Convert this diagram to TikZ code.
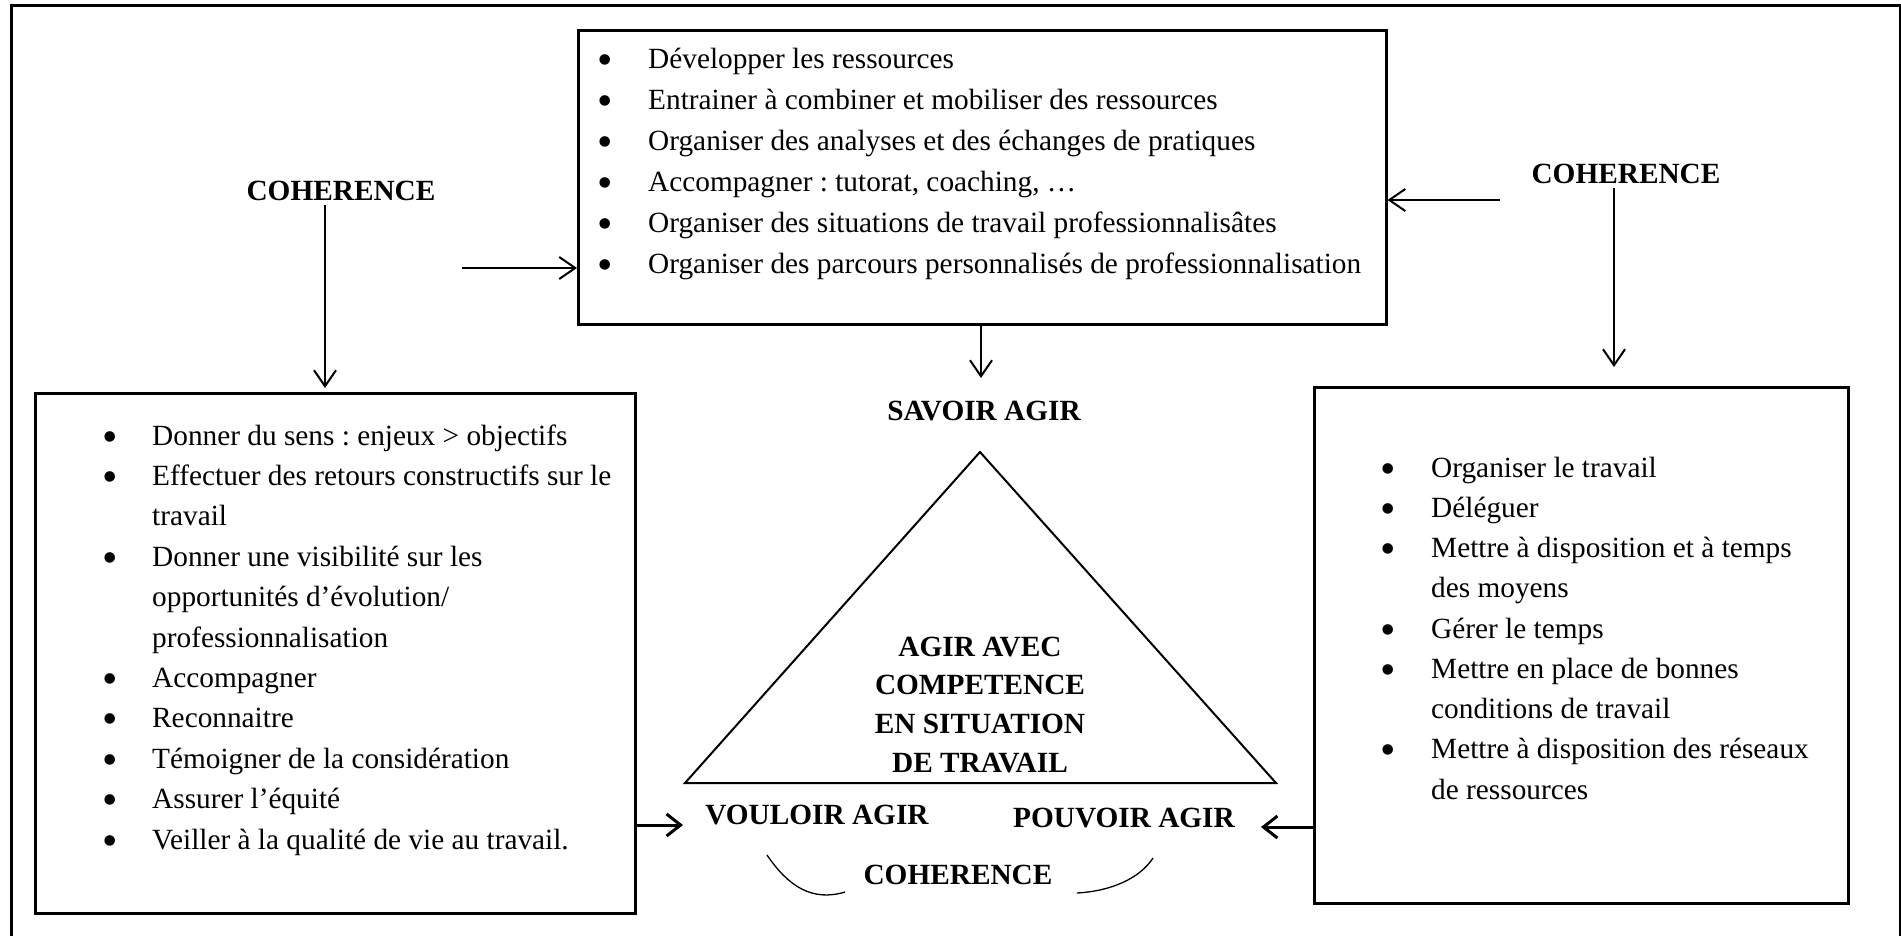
\documentclass[tikz,border=0pt]{standalone}
\usepackage{fontspec}
\setmainfont{Liberation Serif}
\usetikzlibrary{arrows.meta}
\frenchspacing

% bullet list item: #1 = distance from bullet to text, #2 = item text
\newcommand{\gros}{\raisebox{-6pt}{\fontsize{44pt}{44pt}\selectfont\textbullet}}
\newcommand{\puce}[2]{\hangindent=#1\hangafter=1\noindent\makebox[#1][l]{\gros}#2\par}
% list block set at a given line pitch
\newcommand{\liste}[3]{\parbox[t]{#1}{\fontsize{29.3pt}{#2}\selectfont\frenchspacing\parskip=0pt\parindent=0pt #3}}

\begin{document}
\begin{tikzpicture}[x=1pt,y=-1pt,
  frame/.style={line width=3pt},
  listbox/.style={draw, line width=2.5pt, inner sep=0pt, anchor=north west},
  listtext/.style={inner sep=0pt, anchor=base west},
  lbl/.style={font=\fontsize{29.3pt}{34pt}\selectfont\bfseries, inner sep=0pt, anchor=base},
  arr/.style={line width=2pt, -{Straight Barb[length=16pt,width=22pt]}},
  arrb/.style={line width=3pt, -{Straight Barb[length=14pt,width=22pt]}},
  thin/.style={line width=1.3pt},
]
\useasboundingbox (0,0) rectangle (1901,935);
\clip (0,0) rectangle (1901,935);

% outer frame (its lower edge lies below the page)
\draw[frame] (11,980) -- (11,5) -- (1900,5) -- (1900,980);

% the three list boxes
\node[listbox, minimum width=808pt, minimum height=294pt] (tbox) at (577,29) {};
\node[listbox, minimum width=600pt, minimum height=520pt] (lbox) at (34,392) {};
\node[listbox, minimum width=534pt, minimum height=516pt] (rbox) at (1313,386) {};

\node[listtext] (tlist) at (597.5,68) {\liste{780pt}{41pt}{%
  \puce{50.5pt}{Développer les ressources}
  \puce{50.5pt}{Entrainer à combiner et mobiliser des ressources}
  \puce{50.5pt}{Organiser des analyses et des échanges de pratiques}
  \puce{50.5pt}{Accompagner : tutorat, coaching, …}
  \puce{50.5pt}{Organiser des situations de travail professionnalisâtes}
  \puce{50.5pt}{Organiser des parcours personnalisés de professionnalisation}}};

\node[listtext] (llist) at (102.5,445) {\liste{520pt}{40.4pt}{%
  \puce{49.5pt}{Donner du sens : enjeux > objectifs}
  \puce{49.5pt}{Effectuer des retours constructifs sur le\\travail}
  \puce{49.5pt}{Donner une visibilité sur les\\opportunités d’évolution/\\professionnalisation}
  \puce{49.5pt}{Accompagner}
  \puce{49.5pt}{Reconnaitre}
  \puce{49.5pt}{Témoigner de la considération}
  \puce{49.5pt}{Assurer l’équité}
  \puce{49.5pt}{Veiller à la qualité de vie au travail.}}};

\node[listtext] (rlist) at (1380.5,477) {\liste{460pt}{40.25pt}{%
  \puce{50.5pt}{Organiser le travail}
  \puce{50.5pt}{Déléguer}
  \puce{50.5pt}{Mettre à disposition et à temps\\des moyens}
  \puce{50.5pt}{Gérer le temps}
  \puce{50.5pt}{Mettre en place de bonnes\\conditions de travail}
  \puce{50.5pt}{Mettre à disposition des réseaux\\de ressources}}};

% headings
\node[lbl] (cohL) at (341,200) {COHERENCE};
\node[lbl] (cohR) at (1626,183) {COHERENCE};
\node[lbl] (savoir) at (984,420) {SAVOIR AGIR};
\node[lbl] (vouloir) at (817,824) {VOULOIR AGIR};
\node[lbl] (pouvoir) at (1124,827) {POUVOIR AGIR};
\node[lbl] (cohB) at (958,884) {COHERENCE};

% triangle
\coordinate (apex) at (980,452);
\coordinate (bl) at (685,783);
\coordinate (br) at (1276,783);
\draw[line width=2pt, line join=miter] (apex) -- (br) -- (bl) -- cycle;
\node[inner sep=0pt, anchor=base] (centre) at (980,656)
  {\parbox[t]{330pt}{\centering\fontsize{29.3pt}{38.7pt}\selectfont\bfseries
   AGIR AVEC\\COMPETENCE\\EN SITUATION\\DE TRAVAIL}};

% connectors
\coordinate (aL) at (325,205);
\coordinate (aR) at (1614,188);
\coordinate (hL) at (462,268);
\coordinate (hR) at (1500,200);
\coordinate (tdown) at (981,378);
\draw[arr, shorten >=4pt] (aL) -- (aL |- lbox.north);
\draw[arr] (aR) -- (1614,367);
\draw[arr] (hL) -- (hL -| tbox.west);
\draw[arr] (hR) -- (hR -| tbox.east);
\draw[arr] (tbox.south -| tdown) -- (tdown);
\coordinate (vin) at (683,825);
\coordinate (pin) at (1261,827);
\draw[arrb] (lbox.east |- vin) -- (vin);
\draw[arrb] (rbox.west |- pin) -- (pin);

% curved strokes around the lower label
\coordinate (c1) at (767,855);
\coordinate (c2) at (845,892);
\coordinate (c3) at (1077,893);
\coordinate (c4) at (1153,858);
\draw[thin] (c1) .. controls (788,886) and (812,902) .. (c2);
\draw[thin] (c3) .. controls (1112,891) and (1140,878) .. (c4);
\end{tikzpicture}
\end{document}
